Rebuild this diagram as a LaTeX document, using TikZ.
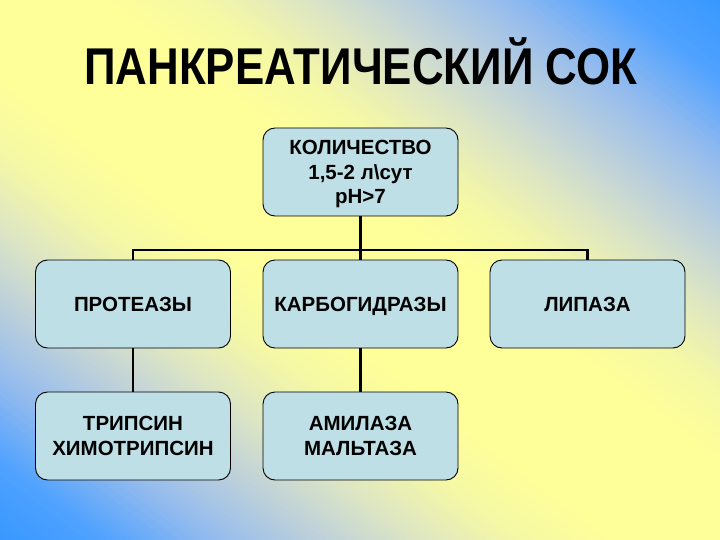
\documentclass[tikz,border=0pt]{standalone}
\usepackage{fontspec}
\usepackage{graphicx}
\setmainfont{Liberation Sans}
\definecolor{bgyellow}{RGB}{255,255,153}
\definecolor{bgca}{RGB}{245,248,165}
\definecolor{bgcb}{RGB}{222,230,195}
\definecolor{bgcc}{RGB}{195,212,215}
\definecolor{bgcd}{RGB}{150,188,238}
\definecolor{bgce}{RGB}{80,162,255}
\definecolor{bgblue}{RGB}{55,152,255}
\definecolor{boxfill}{RGB}{190,223,229}
\begin{document}
\begin{tikzpicture}[x=1pt,y=-1pt,
  box/.style={draw=black, line width=0.9pt, fill=boxfill, rounded corners=12pt,
    minimum width=195pt, minimum height=88pt, align=center, inner sep=0pt,
    text depth=0pt, font=\fontsize{20.5}{24.5}\selectfont\bfseries},
  conn/.style={draw=black, line width=2.6pt}]
\useasboundingbox (0,0) rectangle (720,540);
% background: gradient across the top-right / bottom-left diagonal, drawn as thin strips
\begin{scope}
  \clip (0,0) rectangle (720,540);
  \foreach \o in {-440,-436,...,436} {
    \pgfmathsetmacro\r{abs(\o+2)}
    \ifdim\r pt<60pt \colorlet{sc}{bgyellow}%
    \else\ifdim\r pt<120pt \pgfmathsetmacro\p{100*(\r-60)/60}\colorlet{sc}{bgca!\p!bgyellow}%
    \else\ifdim\r pt<180pt \pgfmathsetmacro\p{100*(\r-120)/60}\colorlet{sc}{bgcb!\p!bgca}%
    \else\ifdim\r pt<230pt \pgfmathsetmacro\p{100*(\r-180)/50}\colorlet{sc}{bgcc!\p!bgcb}%
    \else\ifdim\r pt<300pt \pgfmathsetmacro\p{100*(\r-230)/70}\colorlet{sc}{bgcd!\p!bgcc}%
    \else\ifdim\r pt<370pt \pgfmathsetmacro\p{100*(\r-300)/70}\colorlet{sc}{bgce!\p!bgcd}%
    \else \pgfmathsetmacro\p{min(100,100*(\r-370)/62)}\colorlet{sc}{bgblue!\p!bgce}\fi\fi\fi\fi\fi\fi
    \fill[sc] ({-40+0.6*\o},{-30-0.8*\o}) -- ({760+0.6*\o},{570-0.8*\o})
      -- ({760+0.6*(\o+4.6)},{570-0.8*(\o+4.6)}) -- ({-40+0.6*(\o+4.6)},{-30-0.8*(\o+4.6)}) -- cycle;
  }
\end{scope}
% title
\node[anchor=base west, inner sep=0pt] (title) at (84,85)
  {\resizebox{553pt}{\height}{\fontsize{51.7}{60}\selectfont\bfseries ПАНКРЕАТИЧЕСКИЙ СОК}};
% boxes
\node[box] (top) at (360.5,172) {КОЛИЧЕСТВО\\1,5-2 л\textbackslash сут\\pH>7};
\node[box] (left) at (133,304) {ПРОТЕАЗЫ};
\node[box] (mid) at (360.5,304) {КАРБОГИДРАЗЫ};
\node[box] (right) at (587.5,304) {ЛИПАЗА};
\node[box] (left2) at (133,436) {ТРИПСИН\\ХИМОТРИПСИН};
\node[box] (mid2) at (360.5,436) {АМИЛАЗА\\МАЛЬТАЗА};
% connectors
\coordinate (bus) at (360.5,250);
\draw[conn] (top.south) -- (mid.north);
\draw[conn] (left.north) |- (bus) -| (right.north);
\draw[conn] (left.south) -- (left2.north);
\draw[conn] (mid.south) -- (mid2.north);
\end{tikzpicture}
\end{document}
